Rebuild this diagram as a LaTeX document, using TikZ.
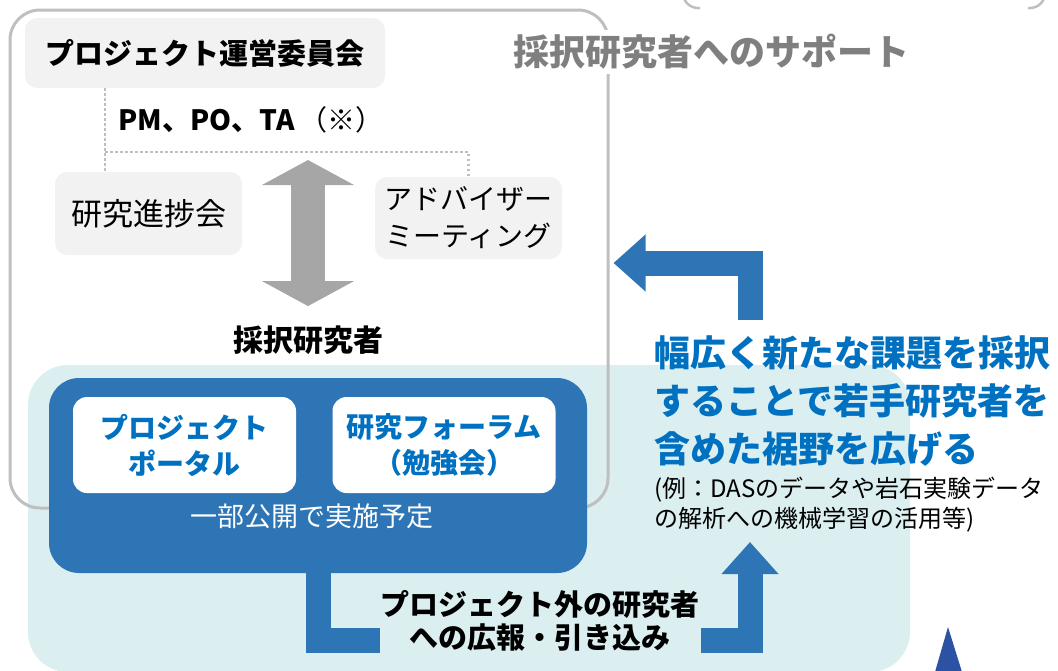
\documentclass[tikz,border=0pt]{standalone}
\usepackage{fontspec}
\setmainfont{Noto Sans CJK JP}
\usetikzlibrary{positioning,arrows.meta}

\definecolor{panelgray}{HTML}{F2F2F2}
\definecolor{framegray}{HTML}{BFBFBF}
\definecolor{titlegray}{HTML}{7F7F7F}
\definecolor{arrowgray}{HTML}{A6A6A6}
\definecolor{palecyan}{HTML}{DBEEF0}
\definecolor{boxblue}{HTML}{2E75B6}
\definecolor{textblue}{HTML}{0070C0}
\definecolor{markblue}{HTML}{2B52A3}

\newcommand{\fsz}[2]{\fontsize{#1pt}{#2pt}\selectfont}

\begin{document}
\begin{tikzpicture}[%
			x=1pt, y=-1pt,
			align = center,
			graybox/.style={%
				fill=panelgray,
				rounded corners=12pt,
				inner sep=0pt
			},
			whitebox/.style={%
				fill=white,
				rounded corners=14pt,
				minimum width=223pt,
				minimum height=96pt,
				text=textblue,
				font=\fsz{28}{36}\bfseries
			},
			dotline/.style={%
				draw=framegray,
				line width=2.5pt,
				dash pattern=on 2.5pt off 2.5pt
			},
			grayarrow/.style={%
				draw=arrowgray,
				line width=34pt,
				{Triangle[length=25pt,width=91pt]}-{Triangle[length=25pt,width=91pt]}
			},
			bluearrow/.style={%
				draw=boxblue,
				line width=25pt,
				line join=miter,
				-{Triangle[length=32pt,width=55pt]}
			}
			]
			\useasboundingbox (0,0) rectangle (1058,670);

			% corners of the cut-off box at the top edge
			\draw[framegray, line width=2.5pt, rounded corners=15pt] (683,-20) |- (700,8);
			\draw[framegray, line width=2.5pt, rounded corners=15pt] (1028,8) -| (1045,-20);

			% pale back panel
			\fill[palecyan, rounded corners=40pt] (28,365) rectangle (910,672);

			% support frame
			\node[draw=framegray, line width=3pt, rounded corners=30pt,
				minimum width=598pt, minimum height=498pt, inner sep=0pt] (support) at (309,259) {};
			\node[fill=white, text=titlegray, font=\fsz{36}{40}\bfseries, inner sep=4pt] (title) at (711,52) {採択研究者へのサポート};

			\node[graybox, minimum width=360pt, minimum height=70pt, font=\fsz{29}{34}\bfseries] (committee) at (205,53) {プロジェクト運営委員会};
			\node[font=\fsz{28}{34}, anchor=west] (members) at (115,120) {{\bfseries PM、PO、TA}\,（※）};
			\node[graybox, minimum width=187pt, minimum height=83pt, font=\fsz{31}{34}] (progress) at (148.5,213.5) {研究進捗会};
			\node[graybox, minimum width=187pt, minimum height=82pt, font=\fsz{28}{37}] (advisor) at (468.5,218) {アドバイザー\\ミーティング};

			\coordinate (tap) at (105,152);
			\draw[dotline] (committee.south -| tap) -- (progress.north -| tap);
			\draw[dotline] (tap) -| (advisor.north);

			\node[font=\fsz{30}{34}\bfseries] (researcher) at (308,340) {採択研究者};
			\coordinate (hub) at (308,160);
			\draw[grayarrow, shorten >=16pt] (hub) -- (researcher);

			% public activities
			\node[fill=boxblue, rounded corners=30pt, minimum width=538pt, minimum height=195pt] (bluebox) at (318,475.5) {};
			\node[whitebox] (portal) at (184.5,445) {プロジェクト\\ポータル};
			\node[whitebox] (forum) at (444,445) {研究フォーラム\\（勉強会）};
			\node[text=white, font=\fsz{27}{32}] (partly) at (312,516) {一部公開で実施予定};

			\coordinate (reach) at (750,640);
			\coordinate (reachtip) at (750,542);
			\draw[bluearrow] (bluebox.south) |- (reach) -- (reachtip);
			\node[fill=palecyan, font=\fsz{29}{33}\bfseries, inner xsep=1pt, inner ysep=2pt] (outreach) at (540,621) {プロジェクト外の研究者\\への広報・引き込み};

			\coordinate (feedback) at (750,320);
			\draw[bluearrow, shorten >=4pt] (feedback) |- ([yshift=-4pt]support.east);

			\node[anchor=north west, align=left, inner sep=0pt, text=textblue, font=\fsz{36}{48}\bfseries] (caption) at (654,336) {幅広く新たな課題を採択\\することで若手研究者を\\含めた裾野を広げる};
			\node[anchor=north west, align=left, inner sep=0pt, font=\fsz{24}{30}] (note) at (654,477) {(例：DASのデータや岩石実験データ\\の解析への機械学習の活用等)};

			\fill[markblue] (948,627) -- (962,672) -- (935,672) -- cycle;
			\end{tikzpicture}
\end{document}
